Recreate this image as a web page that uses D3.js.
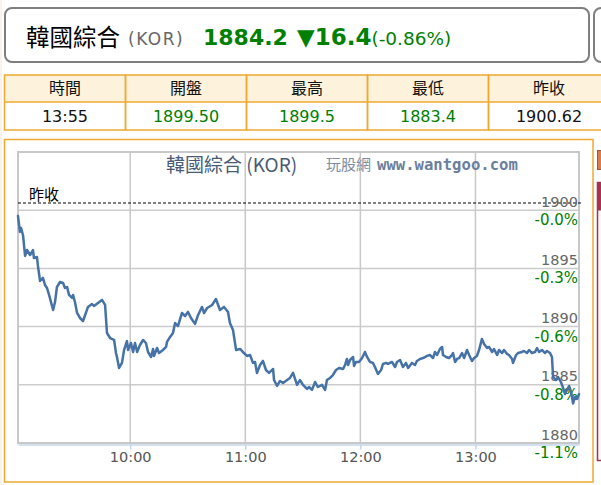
<!DOCTYPE html>
<html><head><meta charset="utf-8">
<script src="https://cdn.jsdelivr.net/npm/d3@7"></script>
<style>
html,body{margin:0;padding:0;background:#fff;overflow:hidden;}
svg{display:block;}
</style></head>
<body>
<svg id="c" width="601" height="485"></svg>
<script>
// ---------- data ----------
const quoteName = "韓國綜合";
const quoteCode = "(KOR)";
const lastPrice = "1884.2";
const change = "▼16.4";
const changePct = "(-0.86%)";
const tableHeaders = ["時間", "開盤", "最高", "最低", "昨收"];
const tableValues = ["13:55", "1899.50", "1899.5", "1883.4", "1900.62"];
const tableValueGreen = [false, true, true, true, false];
const prevClose = 1900.62;
const yTicks = [1880, 1885, 1890, 1895, 1900];
const xTickMinutes = [60, 120, 180, 240];           // minutes after 09:00
const xTickLabels = ["10:00", "11:00", "12:00", "13:00"];
const xDomain = [1.5, 294];                          // 09:01.5 .. 13:54
const yDomain = [1880, 1905];
// minutes after 09:00
const minutes = [1.5,2.5,3.1,4.1,5.2,6.2,7.8,9.3,9.8,11.4,11.9,13.0,14.5,15.6,16.6,17.7,19.8,20.8,21.8,23.4,25.0,26.0,27.1,28.1,29.7,30.2,31.2,32.3,33.8,35.4,38.0,40.1,41.1,43.2,45.3,46.9,47.9,49.5,51.6,52.6,53.1,54.2,55.7,56.8,58.3,58.9,60.4,61.5,62.5,63.6,65.1,66.7,68.2,69.3,70.9,71.9,72.4,74.0,75.0,77.1,78.7,79.2,80.8,82.3,83.4,84.9,87.0,88.6,90.1,91.7,93.8,95.4,97.4,98.5,100.1,102.7,104.7,106.8,108.9,111.0,112.0,113.6,115.2,117.3,119.3,120.9,122.5,124.0,125.1,126.1,127.7,129.2,130.8,132.4,134.5,135.0,136.6,138.1,139.7,141.8,143.3,144.9,147.0,148.5,150.1,152.2,153.2,154.8,156.4,157.9,160.0,161.6,162.6,164.2,165.7,167.3,168.9,171.0,172.0,173.0,173.6,174.6,176.2,176.7,177.7,179.3,180.9,182.4,183.5,185.0,186.6,187.6,189.2,190.8,191.8,193.4,194.4,196.5,198.1,199.1,200.7,202.2,203.8,204.9,206.9,208.5,209.5,211.1,212.7,214.8,216.3,217.9,218.9,220.0,221.5,222.6,223.1,224.7,226.2,227.8,228.3,229.4,230.4,231.5,233.0,234.1,235.6,236.7,238.2,239.3,240.8,241.9,243.4,244.5,246.1,247.1,248.7,249.7,251.3,252.3,253.9,254.9,256.5,257.5,259.1,259.6,261.2,262.2,264.3,265.3,266.9,268.0,269.5,271.1,272.1,273.2,274.7,276.3,277.3,278.9,279.9,280.5,282.0,283.1,284.6,285.7,286.7,287.8,288.8,289.9,290.9,291.9,293.0,294.0];
const prices = [1899.50,1898.13,1898.47,1897.87,1896.07,1896.58,1896.15,1896.58,1895.89,1895.98,1895.21,1893.92,1894.18,1893.57,1893.32,1892.72,1891.43,1892.11,1893.40,1893.83,1893.75,1893.32,1893.40,1892.72,1892.46,1892.72,1892.11,1891.17,1890.74,1890.48,1891.69,1891.94,1891.77,1892.03,1892.29,1891.86,1889.45,1889.02,1888.85,1887.73,1887.39,1886.45,1886.88,1887.99,1888.76,1887.99,1888.59,1887.82,1888.59,1887.82,1888.42,1888.85,1888.59,1887.82,1887.39,1888.08,1887.48,1888.16,1887.73,1887.99,1888.25,1888.68,1889.11,1889.45,1890.31,1890.05,1891.17,1890.91,1891.26,1890.74,1890.23,1891.00,1891.69,1891.17,1891.60,1891.86,1892.37,1891.43,1891.69,1891.26,1890.31,1889.71,1887.99,1888.08,1887.73,1887.48,1887.56,1886.88,1886.96,1886.02,1886.70,1887.05,1886.27,1886.02,1886.36,1885.41,1884.90,1885.33,1885.16,1885.41,1885.59,1886.02,1884.99,1885.41,1884.99,1884.64,1884.81,1884.56,1885.24,1884.81,1884.99,1884.56,1885.41,1885.59,1885.84,1886.27,1886.45,1886.36,1886.70,1887.22,1886.70,1887.13,1887.39,1886.62,1886.96,1886.96,1887.30,1887.82,1887.39,1886.96,1886.88,1886.53,1885.93,1886.27,1886.79,1886.88,1886.79,1886.96,1886.53,1886.96,1887.13,1886.53,1886.88,1886.45,1886.88,1886.70,1887.05,1887.22,1887.30,1887.48,1887.56,1887.30,1887.82,1887.56,1888.08,1888.25,1887.56,1887.39,1887.30,1887.56,1887.73,1886.96,1887.22,1887.30,1887.73,1887.30,1887.99,1887.56,1887.05,1887.30,1887.48,1887.99,1888.94,1888.51,1888.16,1888.25,1887.82,1888.08,1887.56,1887.99,1887.73,1887.99,1887.65,1887.56,1887.22,1886.88,1887.56,1887.73,1887.82,1887.91,1887.73,1887.99,1887.73,1887.82,1888.16,1887.82,1887.99,1887.73,1887.91,1887.73,1887.39,1885.67,1885.41,1885.67,1885.24,1884.73,1884.21,1884.56,1884.90,1884.38,1883.40,1883.95,1883.78,1884.20];

// ---------- drawing ----------
const svg = d3.select("#c");
const cjk = "'Noto Sans CJK TC','Noto Sans CJK SC',sans-serif";
const lat = "'DejaVu Sans',Verdana,sans-serif";
const green = "#008000";

// faint page edge
svg.append("line").attr("x1",1).attr("x2",1).attr("y1",0).attr("y2",485)
  .attr("stroke","#fbe3d6").attr("stroke-width",1);

// top quote box
svg.append("rect").attr("x",5).attr("y",8).attr("width",584).attr("height",54)
  .attr("rx",7).attr("fill","#fff").attr("stroke","#7f7f7f").attr("stroke-width",2);
svg.append("rect").attr("x",594).attr("y",8).attr("width",40).attr("height",54)
  .attr("rx",7).attr("fill","#fff").attr("stroke","#7f7f7f").attr("stroke-width",2);

svg.append("text").attr("x",26).attr("y",46).attr("font-family",cjk).attr("font-size",23.5)
  .attr("fill","#000").text(quoteName);
svg.append("text").attr("x",128).attr("y",45).attr("font-family",lat).attr("font-size",17)
  .attr("letter-spacing",1.5).attr("fill","#666").text(quoteCode);
svg.append("text").attr("x",203).attr("y",45).attr("font-family",lat).attr("font-size",22)
  .attr("font-weight","bold").attr("fill",green).text(lastPrice);
const chg = svg.append("text").attr("x",297).attr("y",45).attr("font-family",lat).attr("font-size",23)
  .attr("font-weight","bold").attr("fill",green).text(change);
const chgEnd = 297 + chg.node().getComputedTextLength();
svg.append("text").attr("x",chgEnd).attr("y",45).attr("font-family",lat).attr("font-size",18.5)
  .attr("fill",green).text(changePct);

// table
const colX = d3.scaleBand().domain(d3.range(tableHeaders.length)).range([4.5, 609.5]);
const tbl = svg.append("g");
tbl.append("rect").attr("x",4.5).attr("y",75).attr("width",605).attr("height",27)
  .attr("fill","#fdf2dc");
tableHeaders.forEach((h,i)=>{
  tbl.append("rect").attr("x",colX(i)).attr("y",75).attr("width",colX.bandwidth()).attr("height",55)
    .attr("fill","none").attr("stroke","#f0a830").attr("stroke-width",1.5);
  tbl.append("text").attr("x",colX(i)+colX.bandwidth()/2).attr("y",94).attr("text-anchor","middle")
    .attr("font-family",cjk).attr("font-size",16).attr("fill","#111").text(h);
  tbl.append("text").attr("x",colX(i)+colX.bandwidth()/2).attr("y",122).attr("text-anchor","middle")
    .attr("font-family",lat).attr("font-size",16).attr("fill",tableValueGreen[i]?green:"#111").text(tableValues[i]);
});
tbl.append("line").attr("x1",4.5).attr("x2",609).attr("y1",102).attr("y2",102)
  .attr("stroke","#f0a830").attr("stroke-width",1.5);

// chart frame
svg.append("rect").attr("x",4.5).attr("y",139.5).attr("width",588.5).attr("height",342.5)
  .attr("fill","#fff").attr("stroke","#f0a830").attr("stroke-width",1.5);

// right side panels
svg.append("rect").attr("x",597.5).attr("y",150.5).attr("width",20).attr("height",19)
  .attr("fill","#dd7a4a").attr("stroke","#a85530").attr("stroke-width",1);
svg.append("rect").attr("x",597.5).attr("y",182.5).attr("width",20).attr("height",278)
  .attr("fill","#fff6f8").attr("stroke","#a3324f").attr("stroke-width",1.5);
svg.append("rect").attr("x",597.5).attr("y",182.5).attr("width",20).attr("height",28)
  .attr("fill","#a8324f");

// plot
const L = 18, R = 579, T = 152, B = 443;
const x = d3.scaleLinear().domain(xDomain).range([L, R]);
const y = d3.scaleLinear().domain(yDomain).range([B, T]);

const g = svg.append("g");
// gridlines
g.selectAll("line.hg").data(yTicks).join("line").attr("class","hg")
  .attr("x1",L).attr("x2",R).attr("y1",d=>y(d)).attr("y2",d=>y(d))
  .attr("stroke","#cccccc").attr("stroke-width",1.5);
g.selectAll("line.vg").data(xTickMinutes).join("line").attr("class","vg")
  .attr("x1",d=>x(d)).attr("x2",d=>x(d)).attr("y1",T).attr("y2",B)
  .attr("stroke","#c8c8c8").attr("stroke-width",1.5);
// plot border
g.append("rect").attr("x",L).attr("y",T).attr("width",R-L).attr("height",B-T)
  .attr("fill","none").attr("stroke","#c8c8c8").attr("stroke-width",2);

// x axis (light blue line + ticks)
const xAxis = d3.axisBottom(x).tickValues(xTickMinutes)
  .tickFormat((d,i)=>xTickLabels[i]).tickSize(5).tickSizeOuter(0).tickPadding(6);
const ax = svg.append("g").attr("transform",`translate(0,${B+1.5})`).call(xAxis);
ax.select(".domain").attr("stroke","#c5d6ea").attr("stroke-width",1.5);
ax.selectAll(".tick line").attr("stroke","#c5d6ea").attr("stroke-width",1.5);
ax.selectAll(".tick text").attr("font-family",lat).attr("font-size",14.5).attr("fill","#555")
  .attr("dy",null).attr("y",17.5);

// title
svg.append("text").attr("y",172).attr("x",166).attr("font-family",cjk).attr("font-size",19)
  .attr("fill","#4a5b74").text("韓國綜合 (KOR)");
svg.append("text").attr("x",326).attr("y",170).attr("font-family",cjk).attr("font-size",15)
  .attr("fill","#7d8da3").text("玩股網");
svg.append("text").attr("x",377).attr("y",170).attr("font-family","'DejaVu Sans Mono',monospace")
  .attr("font-size",15.6).attr("font-weight","bold").attr("fill","#6b809b").text("www.wantgoo.com");

// prev close line + label
svg.append("line").attr("x1",L).attr("x2",R+2).attr("y1",y(prevClose)).attr("y2",y(prevClose))
  .attr("stroke","#000").attr("stroke-width",1.2).attr("stroke-dasharray","3,2");
svg.append("text").attr("x",29).attr("y",y(prevClose)-3).attr("font-family",cjk).attr("font-size",15)
  .attr("fill","#000").text("昨收");

// right labels
svg.selectAll("text.yl").data(yTicks).join("text").attr("class","yl")
  .attr("x",R-1).attr("y",d=>y(d)-3.5).attr("text-anchor","end")
  .attr("font-family",lat).attr("font-size",14.5).attr("fill","#666").text(d=>d);
svg.selectAll("text.pl").data(yTicks).join("text").attr("class","pl")
  .attr("x",R-1).attr("y",d=>y(d)+15).attr("text-anchor","end")
  .attr("font-family",lat).attr("font-size",15).attr("fill",green)
  .text(d=>{const p=(d-prevClose)/prevClose*100; return "-"+Math.abs(p).toFixed(1)+"%";});

// price line
const pts = minutes.map((m,i)=>[m,prices[i]]);
svg.append("path").datum(pts)
  .attr("d", d3.line().x(d=>x(d[0])).y(d=>y(d[1])))
  .attr("fill","none").attr("stroke","#4572a7").attr("stroke-width",2.5)
  .attr("stroke-linejoin","round").attr("stroke-linecap","round");
</script>
</body></html>
